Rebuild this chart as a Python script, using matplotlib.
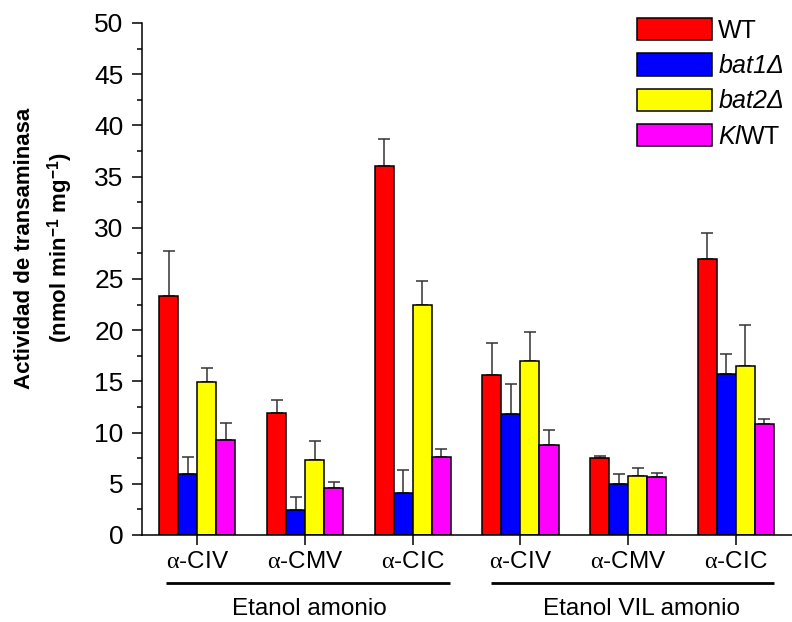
import matplotlib
matplotlib.use("Agg")
import matplotlib.pyplot as plt
import matplotlib.transforms as mtransforms
import numpy as np

plt.rcParams['font.family'] = ['Liberation Sans', 'DejaVu Sans']
plt.rcParams['mathtext.fontset'] = 'custom'
plt.rcParams['mathtext.rm'] = 'Liberation Sans'
plt.rcParams['mathtext.it'] = 'Liberation Serif'
plt.rcParams['mathtext.sf'] = 'Liberation Sans:italic'
plt.rcParams['mathtext.bf'] = 'Liberation Sans:bold'

# ---- data ----
categories = [r"$\alpha$-CIV", r"$\alpha$-CMV", r"$\alpha$-CIC",
              r"$\alpha$-CIV", r"$\alpha$-CMV", r"$\alpha$-CIC"]
groups = ["Etanol amonio", "Etanol VIL amonio"]
series_names = ["WT", r"$\mathsf{bat1\Delta}$", r"$\mathsf{bat2\Delta}$", r"$\mathsf{Kl}$WT"]
wt = [23.3, 11.95, 36.0, 15.6, 7.55, 26.95]
bat1 = [5.95, 2.45, 4.15, 11.8, 4.95, 15.75]
bat2 = [14.9, 7.3, 22.45, 17.0, 5.75, 16.5]
klwt = [9.25, 4.55, 7.65, 8.75, 5.65, 10.8]
wt_err = [4.45, 1.25, 2.7, 3.15, 0.2, 2.5]
bat1_err = [1.65, 1.3, 2.2, 2.9, 1.0, 1.95]
bat2_err = [1.45, 1.9, 2.4, 2.8, 0.8, 4.0]
klwt_err = [1.7, 0.6, 0.7, 1.5, 0.45, 0.5]
colors = ["#FF0000", "#0000FF", "#FFFF00", "#FF00FF"]
yticks = [0, 5, 10, 15, 20, 25, 30, 35, 40, 45, 50]

values = [wt, bat1, bat2, klwt]
errors = [wt_err, bat1_err, bat2_err, klwt_err]

W, H = 792, 622
fig = plt.figure(figsize=(W / 100, H / 100), dpi=100)
ax = fig.add_axes([142 / W, 1 - 535 / H, 1 - 142 / W, (535 - 23) / H])

x = np.arange(len(categories))
bw = 0.1764
for i, (vals, errs, c, name) in enumerate(zip(values, errors, colors, series_names)):
    pos = x + (i - 1.5) * bw
    ax.bar(pos, vals, width=bw, color=c, edgecolor='black', linewidth=1.1,
           label=name, zorder=2,
           yerr=[np.zeros(len(errs)), errs], capsize=4,
           error_kw=dict(ecolor='#333333', elinewidth=1.1, capthick=1.1, zorder=1))

ax.set_xlim(-0.513, 5.52)
ax.set_ylim(0, 50)
ax.set_yticks(yticks)
ax.set_yticks(np.arange(2.5, 50, 5), minor=True)
ax.set_xticks(x)
ax.set_xticklabels(categories)
for s in ['top', 'right']:
    ax.spines[s].set_visible(False)
for s in ['left', 'bottom']:
    ax.spines[s].set_linewidth(1.1)
ax.tick_params(axis='y', which='major', direction='out', length=7.2, width=1.1,
               labelsize=19, pad=6)
ax.tick_params(axis='y', which='minor', direction='out', length=3.5, width=1.1)
ax.tick_params(axis='x', which='major', direction='out', length=7.2, width=1.1,
               labelsize=17.5, pad=4)

# group brackets and labels
trans = mtransforms.blended_transform_factory(ax.transData, fig.transFigure)
spans = [(-0.29, 2.35), (2.73, 5.35)]
label_x = [1.04, 4.12]
for (a, b), lx, g in zip(spans, label_x, groups):
    ax.plot([a, b], [1 - 583 / H, 1 - 583 / H], color='black', lw=2.0,
            transform=trans, clip_on=False, solid_capstyle='butt')
    ax.text(lx, 1 - 609 / H, g, transform=trans, ha='center', va='center',
            fontsize=17.5)

# y label
fig.text(25 / W, 1 - 248 / H, "Actividad de transaminasa", rotation=90,
         ha='center', va='center', fontsize=16, fontweight='bold')
fig.text(60 / W, 1 - 248 / H, r"(nmol min$^{\mathbf{-1}}$ mg$^{\mathbf{-1}}$)",
         rotation=90, ha='center', va='center', fontsize=16, fontweight='bold')

ax.legend(loc='upper left', bbox_to_anchor=(637 / W, 1 - 18 / H),
          bbox_transform=fig.transFigure, frameon=False, fontsize=18,
          handlelength=3.0, handleheight=1.0, labelspacing=0.42,
          handletextpad=0.24, borderpad=0, borderaxespad=0)

fig.savefig("out.png", dpi=100)
